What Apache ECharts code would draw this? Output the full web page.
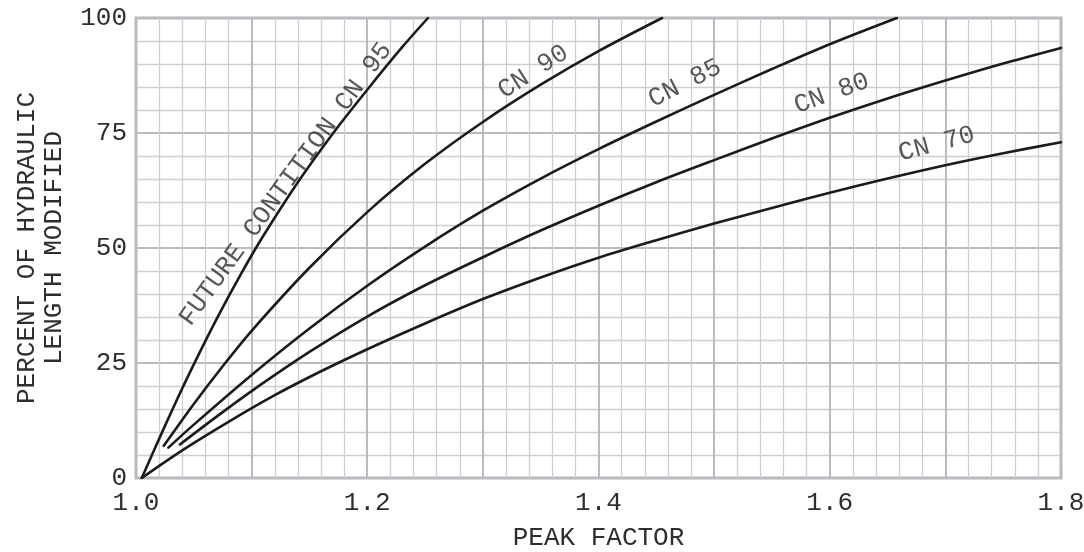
<!DOCTYPE html>
<html><head><meta charset="utf-8">
<script src="https://cdn.jsdelivr.net/npm/echarts@6/dist/echarts.min.js"></script>
<style>html,body{margin:0;padding:0;background:#fff}#c{width:1084px;height:552px}</style>
</head><body><div id="c"></div>
<script>
// ---- data ----
const cn95X = [1.005, 1.02, 1.035, 1.05, 1.07, 1.09, 1.11, 1.14, 1.17, 1.20, 1.23, 1.2525];
const cn95Y = [0, 8.5, 16.8, 24.7, 34.7, 44.0, 52.6, 64.3, 74.8, 84.4, 93.6, 100];
const cn90X = [1.024, 1.05, 1.075, 1.10, 1.15, 1.20, 1.25, 1.30, 1.35, 1.40, 1.455];
const cn90Y = [7, 16.1, 24.3, 32, 45.7, 57.8, 68.3, 77.4, 85.5, 92.8, 100];
const cn85X = [1.028, 1.05, 1.10, 1.15, 1.20, 1.25, 1.30, 1.35, 1.40, 1.45, 1.50, 1.55, 1.60, 1.658];
const cn85Y = [6.6, 11.6, 22.4, 32.5, 41.8, 50.3, 58.1, 65.1, 71.5, 77.5, 83.3, 88.9, 94.3, 100];
const cn80X = [1.038, 1.07, 1.10, 1.15, 1.20, 1.25, 1.30, 1.35, 1.40, 1.45, 1.50, 1.55, 1.60, 1.65, 1.70, 1.75, 1.80];
const cn80Y = [7.3, 13.4, 18.9, 27.4, 35.1, 41.9, 48.0, 53.8, 59.2, 64.3, 69.1, 73.8, 78.3, 82.5, 86.4, 90.1, 93.5];
const cn70X = [1.005, 1.04, 1.08, 1.12, 1.16, 1.20, 1.25, 1.30, 1.35, 1.40, 1.45, 1.50, 1.55, 1.60, 1.65, 1.70, 1.75, 1.80];
const cn70Y = [0, 6, 12.2, 18, 23.2, 28, 33.6, 38.9, 43.6, 47.9, 51.7, 55.3, 58.7, 62.0, 65.1, 68.0, 70.6, 73.0];

const curveNames = ['CN 95', 'CN 90', 'CN 85', 'CN 80', 'CN 70'];
const labelTexts = ['FUTURE CONTITION CN 95', 'CN 90', 'CN 85', 'CN 80', 'CN 70'];
const labelX = [1.1295, 1.3436, 1.4748, 1.6017, 1.6925];
const labelY = [63.9, 88.3, 85.8, 83.6, 72.6];

const xTickLabels = ['1.0', '1.2', '1.4', '1.6', '1.8'];
const yTickLabels = ['0', '25', '50', '75', '100'];
const xTitle = 'PEAK FACTOR';
const yTitle = 'PERCENT OF HYDRAULIC\nLENGTH MODIFIED';

// ---- styling / layout ----
const FONT = "'Liberation Mono', 'Courier New', monospace";
const TEXT = '#2e2e2e';
const labelAngles = [54, 33, 27, 20, 15];
const curvesX = [cn95X, cn90X, cn85X, cn80X, cn70X];
const curvesY = [cn95Y, cn90Y, cn85Y, cn80Y, cn70Y];

const lineSeries = curveNames.map((n, i) => ({
  name: n, type: 'line', showSymbol: false, smooth: 0.3,
  data: curvesX[i].map((x, k) => [x, curvesY[i][k]]),
  lineStyle: { color: '#1b1b1b', width: 2.6, cap: 'round' },
  z: 3, silent: true
}));

const labelSeries = {
  type: 'scatter', symbolSize: 0, silent: true, z: 4,
  data: labelTexts.map((t, i) => ({
    value: [labelX[i], labelY[i]], name: t,
    label: { rotate: labelAngles[i] }
  })),
  label: {
    show: true, position: 'inside', formatter: p => p.name,
    fontFamily: FONT, fontSize: 26, color: TEXT, align: 'center', verticalAlign: 'middle'
  }
};

const chart = echarts.init(document.getElementById('c'), null, { renderer: 'canvas' });
chart.setOption({
  animation: false,
  backgroundColor: '#ffffff',
  grid: { left: 136, right: 23, top: 18, bottom: 74, show: true, borderColor: '#b3b7bc', borderWidth: 3,
          containLabel: false, outerBoundsMode: 'none' },
  xAxis: {
    type: 'value', min: 1.0, max: 1.8, interval: 0.1,
    axisLine: { show: false }, axisTick: { show: false },
    axisLabel: {
      margin: 12, fontFamily: FONT, fontSize: 26, color: TEXT,
      formatter: v => { const s = v.toFixed(1); return xTickLabels.includes(s) ? s : ''; }
    },
    splitLine: { show: true, lineStyle: { color: '#b8bcc1', width: 2 } },
    minorTick: { show: false, splitNumber: 5 },
    minorSplitLine: { show: true, lineStyle: { color: '#cbced3', width: 1.3 } },
    name: xTitle, nameLocation: 'middle', nameGap: 47,
    nameTextStyle: { fontFamily: FONT, fontSize: 26, color: TEXT }
  },
  yAxis: {
    type: 'value', min: 0, max: 100, interval: 25,
    axisLine: { show: false }, axisTick: { show: false },
    axisLabel: {
      margin: 9, fontFamily: FONT, fontSize: 26, color: TEXT,
      formatter: v => { const s = String(Math.round(v)); return yTickLabels.includes(s) ? s : ''; }
    },
    splitLine: { show: true, lineStyle: { color: '#b8bcc1', width: 2 } },
    minorTick: { show: false, splitNumber: 5 },
    minorSplitLine: { show: true, lineStyle: { color: '#cbced3', width: 1.3 } },
    name: yTitle, nameLocation: 'middle', nameGap: 68,
    nameTextStyle: { fontFamily: FONT, fontSize: 26, color: TEXT, lineHeight: 27 }
  },
  series: [...lineSeries, labelSeries]
});
</script></body></html>
